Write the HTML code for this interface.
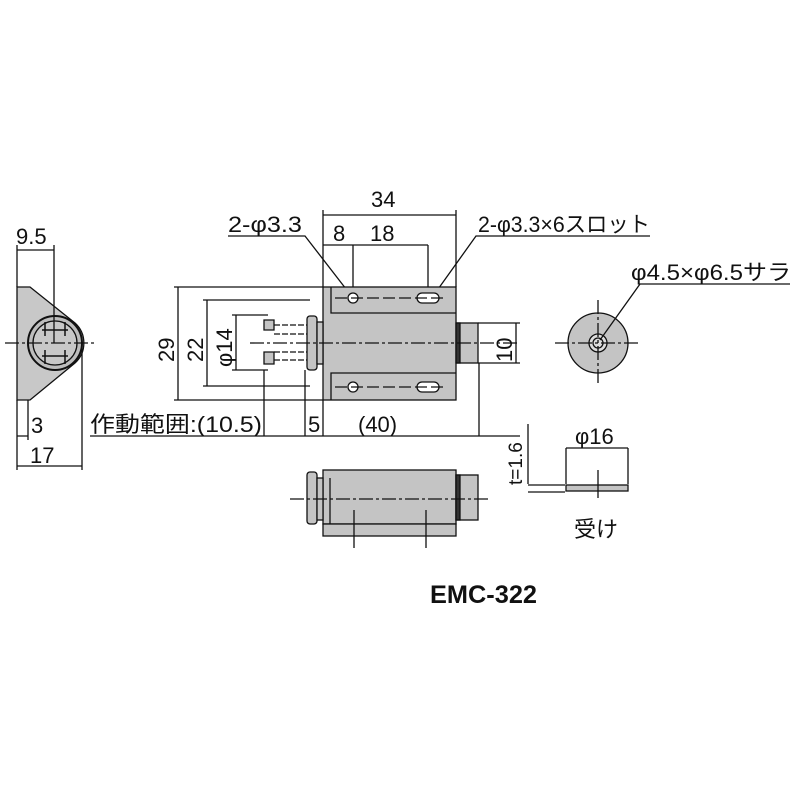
<!DOCTYPE html><html><head><meta charset="utf-8"><style>body{margin:0;background:#fff}svg{display:block}text{font-family:"Liberation Sans","Noto Sans CJK JP",sans-serif;fill:#111}</style></head><body>
<svg width="800" height="800" viewBox="0 0 800 800" xmlns="http://www.w3.org/2000/svg">
<g stroke="#111" stroke-width="1.3" fill="none">
<path d="M17 287 H30 L75 323 A27 27 0 0 1 75 363 L30 400 H17 Z" fill="#c8c8c8"/>
<circle cx="55" cy="343" r="27" fill="#bdbdbd" stroke-width="2"/>
<circle cx="55" cy="343" r="22" fill="#c8c8c8"/>
<path d="M42 330 H68 M42 356 H68 M45 322 V336 M65 322 V336 M45 350 V364 M65 350 V364" stroke-width="1.5"/>
<path d="M5 343 H95" stroke-dasharray="14 3 3 3"/>
<path d="M17 245 V287 M54 245 V343 M17 250 H54"/>
<path d="M17 400 V470 M28 400 V440 M82 343 V470 M17 436 H28 M17 466 H82"/>
<path d="M178 287 V400 M174 287 H323 M174 400 H323"/>
<path d="M207 300 V386 M203 300 H310 M203 386 H310"/>
<path d="M236 315 V370 M232 315 H268 M232 370 H268"/>
<path d="M323 210 V287 M456 210 V287 M323 215 H456 M323 245 H428 M353 245 V305 M428 245 V305"/>
<path d="M90 436 H520 M264 370 V436 M305 370 V436 M323 400 V436 M479 363 V436"/>
<path d="M228 236 H305 L353 298 M650 236 H476 L436 292"/>
<rect x="323" y="287" width="133" height="113" fill="#c4c4c4"/>
<path d="M331 287 V313 H456 M331 400 V373 H456"/>
<circle cx="353" cy="298" r="5" fill="#fff"/>
<rect x="417" y="293" width="22" height="10" rx="5" fill="#fff"/>
<circle cx="353" cy="387" r="5" fill="#fff"/>
<rect x="417" y="382" width="22" height="10" rx="5" fill="#fff"/>
<path d="M335 298 H445 M335 387 H445" stroke-dasharray="12 4"/>
<rect x="457" y="323" width="21" height="40" fill="#c4c4c4"/>
<rect x="456" y="323" width="4" height="40" fill="#333"/>
<path d="M478 323 H520 M478 363 H520 M516 323 V363"/>
<rect x="307" y="316" width="10" height="54" rx="3" fill="#c4c4c4"/>
<rect x="317" y="322" width="6" height="42" fill="#c4c4c4"/>
<path d="M264 320 H274 V330 H264 Z M264 352 H274 V364 H264 Z" fill="#c4c4c4"/>
<path d="M274 325 H307 M274 334 H307 M274 352 H307 M274 360 H307" stroke-dasharray="6 2"/>
<path d="M250 343 H520" stroke-dasharray="14 3 3 3"/>
<circle cx="598" cy="343" r="30" fill="#c4c4c4"/>
<circle cx="598" cy="343" r="9" fill="#ddd"/><circle cx="598" cy="343" r="5"/>
<path d="M555 343 H640 M598 300 V385" stroke-dasharray="14 3 3 3"/>
<path d="M600 340 L640 284 H790"/>
<rect x="323" y="470" width="133" height="54" fill="#c4c4c4"/>
<rect x="323" y="524" width="133" height="12" fill="#c4c4c4"/>
<rect x="456" y="475" width="22" height="45" fill="#c4c4c4"/>
<rect x="456" y="475" width="4" height="45" fill="#333"/>
<rect x="307" y="472" width="10" height="52" rx="3" fill="#c4c4c4"/>
<rect x="317" y="478" width="6" height="42" fill="#c4c4c4"/>
<path d="M330 478 V524 M354 510 V548 M426 510 V548"/>
<path d="M290 499 H490" stroke-dasharray="14 3 3 3"/>
<path d="M528 424 V484 M528 485 H565 M528 492 H565"/>
<rect x="566" y="485" width="62" height="6" fill="#c4c4c4"/>
<path d="M566 448 H628 M566 448 V484 M628 448 V484 M598 470 V498"/>
</g>
<g font-size="22">
<text x="16" y="244">9.5</text>
<text x="31" y="433">3</text>
<text x="30" y="463">17</text>
<text x="228" y="232" textLength="74" lengthAdjust="spacingAndGlyphs">2-φ3.3</text>
<text x="371" y="207">34</text>
<text x="333" y="241">8</text>
<text x="370" y="241">18</text>
<text x="478" y="232" textLength="172" lengthAdjust="spacingAndGlyphs">2-φ3.3×6スロット</text>
<text x="631" y="280" textLength="160" lengthAdjust="spacingAndGlyphs">φ4.5×φ6.5サラ</text>
<text x="90" y="432" textLength="172" lengthAdjust="spacingAndGlyphs">作動範囲:(10.5)</text>
<text x="308" y="432">5</text>
<text x="358" y="432">(40)</text>
<text x="575" y="444">φ16</text>
<text x="574" y="537">受け</text>
<text transform="translate(174 362) rotate(-90)">29</text>
<text transform="translate(203 362) rotate(-90)">22</text>
<text transform="translate(232 367) rotate(-90)">φ14</text>
<text transform="translate(512 362) rotate(-90)">10</text>
<text transform="translate(522 485) rotate(-90)" font-size="19">t=1.6</text>
<text x="430" y="603" font-size="25" font-weight="bold" textLength="107" lengthAdjust="spacingAndGlyphs">EMC-322</text>
</g>
</svg></body></html>
